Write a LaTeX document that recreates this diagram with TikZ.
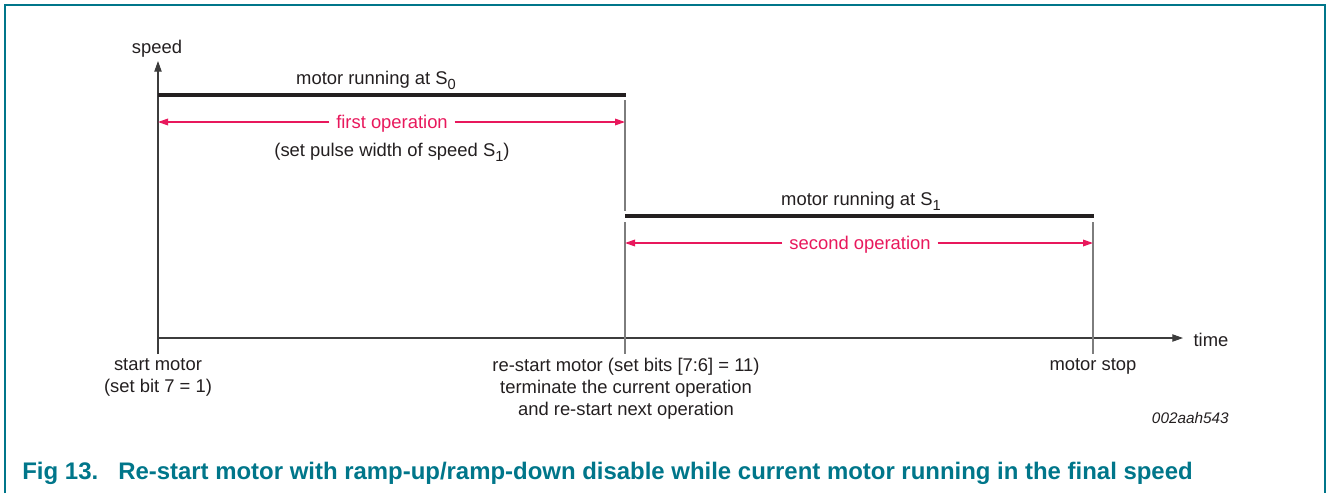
\documentclass[tikz,border=0pt]{standalone}
\usepackage{fontspec}
\setmainfont{Liberation Sans}
\usetikzlibrary{arrows.meta}
\definecolor{teal1}{RGB}{0,118,138}
\definecolor{pink1}{RGB}{232,24,92}
\definecolor{ink}{RGB}{35,31,32}
\definecolor{axgray}{RGB}{60,60,60}
\definecolor{tickgray}{RGB}{125,125,125}
\newcommand{\mysub}[1]{\raisebox{-0.28em}{\fontsize{11}{11}\selectfont #1}}
\begin{document}
\begin{tikzpicture}[x=0.75pt,y=-0.75pt,
  lbl/.style={inner sep=0pt,text=ink,font=\fontsize{13.8}{16.6}\selectfont,align=center},
  oplbl/.style={inner sep=0pt,text=pink1,font=\fontsize{13.8}{16.6}\selectfont},
  axisln/.style={draw=axgray,line width=0.8pt},
  tickln/.style={draw=tickgray,line width=1pt},
  speedbar/.style={draw=ink,line width=2.3pt},
  oparrow/.style={draw=pink1,line width=0.9pt,-{Triangle[length=7.5pt,width=5pt]}},
  axtip/.style={-{Triangle[length=8pt,width=5.5pt]}},
  framestyle/.style={draw=teal1,line width=1.1pt}]
\useasboundingbox (0,0) rectangle (1328,493);
% frame
\draw[framestyle] (5,493) -- (5,5) -- (1325,5) -- (1325,493);
% coordinates
\coordinate (O) at (158,338);
\coordinate (ybot) at (158,354);
\coordinate (ytip) at (158,61);
\coordinate (xtip) at (1183,338);
\coordinate (s0l) at (158,95);
\coordinate (s0r) at (626,95);
\coordinate (s1l) at (625,216);
\coordinate (s1r) at (1094,216);
\coordinate (t1top) at (625,100);
\coordinate (t1gap) at (625,211);
\coordinate (t1res) at (625,222);
\coordinate (t1bot) at (625,354);
\coordinate (t2top) at (1093,222);
\coordinate (t2bot) at (1093,354);
\coordinate (op1l) at (158,122);
\coordinate (op1r) at (625,122);
\coordinate (op2l) at (625,243);
\coordinate (op2r) at (1093,243);
% axes
\draw[axisln,axtip] (ybot) -- (ytip);
\draw[axisln,axtip] (O) -- (xtip);
\node[lbl] (speed) at (157,48.5) {speed};
\node[lbl] (time) at (1211,340) {time};
% ticks / verticals
\draw[tickln] (t1top) -- (t1gap);
\draw[tickln] (t1res) -- (t1bot);
\draw[tickln] (t2top) -- (t2bot);
% speed bars
\draw[speedbar] (s0l) -- (s0r);
\draw[speedbar] (s1l) -- (s1r);
\node[lbl] (s0lbl) at (376,80) {motor running at S\mysub{0}};
\node[lbl] (s1lbl) at (861,201) {motor running at S\mysub{1}};
% operations
\node[oplbl] (op1) at (392,124) {first operation};
\draw[oparrow] ([xshift=-5pt]op1.west |- op1l) -- (op1l);
\draw[oparrow] ([xshift=5pt]op1.east |- op1r) -- (op1r);
\node[lbl] (pw) at (392,152) {(set pulse width of speed S\mysub{1})};
\node[oplbl] (op2) at (860,245) {second operation};
\draw[oparrow] ([xshift=-5pt]op2.west |- op2l) -- (op2l);
\draw[oparrow] ([xshift=5pt]op2.east |- op2r) -- (op2r);
% event labels
\node[lbl,anchor=north] (start) at (158,358) {start motor\\(set bit 7 = 1)};
\node[lbl,anchor=north] (restart) at (626,358) {re-start motor (set bits [7:6] = 11)\\terminate the current operation\\and re-start next operation};
\node[lbl,anchor=north] (stop) at (1093,358) {motor stop};
\node[lbl,anchor=east,font=\fontsize{11.5}{14}\selectfont\itshape] (code) at (1229,418) {002aah543};
% caption
\node[anchor=base west,inner sep=0pt,text=teal1,font=\fontsize{18}{22}\selectfont\bfseries] (fig) at (22,479) {Fig 13.};
\node[anchor=base west,inner sep=0pt,text=teal1,font=\fontsize{17.95}{22}\selectfont\bfseries] (cap) at (118,479) {Re-start motor with ramp-up/ramp-down disable while current motor running in the final speed};
\end{tikzpicture}
\end{document}
